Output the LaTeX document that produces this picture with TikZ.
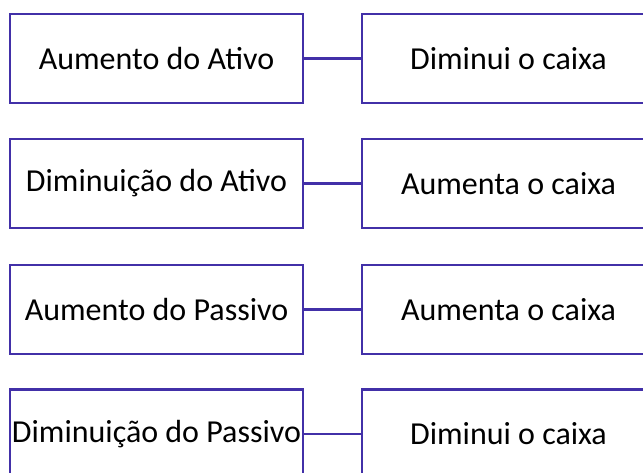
\documentclass[tikz,border=0pt]{standalone}
\usepackage{fontspec}
\setmainfont{Carlito}
\definecolor{boxline}{RGB}{66,48,168}
\tikzset{card/.style={draw=boxline, line width=2.6pt, rectangle, minimum width=293pt, minimum height=89pt, inner sep=0pt, text=black, font=\fontsize{32}{38}\selectfont}, link/.style={boxline, line width=2.6pt}}

\begin{document}
\begin{tikzpicture}[x=1pt,y=1pt]
  \clip (0,0) rectangle (643,472);
  \node[card] (aa) at (156.5,413.5) {Aumento do Ativo};
  \node[card] (ab) at (508.5,413.5) {Diminui o caixa};
  \node[card] (ba) at (156.5,288.5) {Diminuição do Ativo};
  \node[card] (bb) at (508.5,288.5) {Aumenta o caixa};
  \node[card] (ca) at (156.5,162.5) {Aumento do Passivo};
  \node[card] (cb) at (508.5,162.5) {Aumenta o caixa};
  \node[card] (da) at (156.5, 38.0) {Diminuição do Passivo};
  \node[card] (db) at (508.5, 38.0) {Diminui o caixa};
  \draw[link] (aa) -- (ab);
  \draw[link] (ba) -- (bb);
  \draw[link] (ca) -- (cb);
  \draw[link] (da) -- (db);
\end{tikzpicture}
\end{document}
